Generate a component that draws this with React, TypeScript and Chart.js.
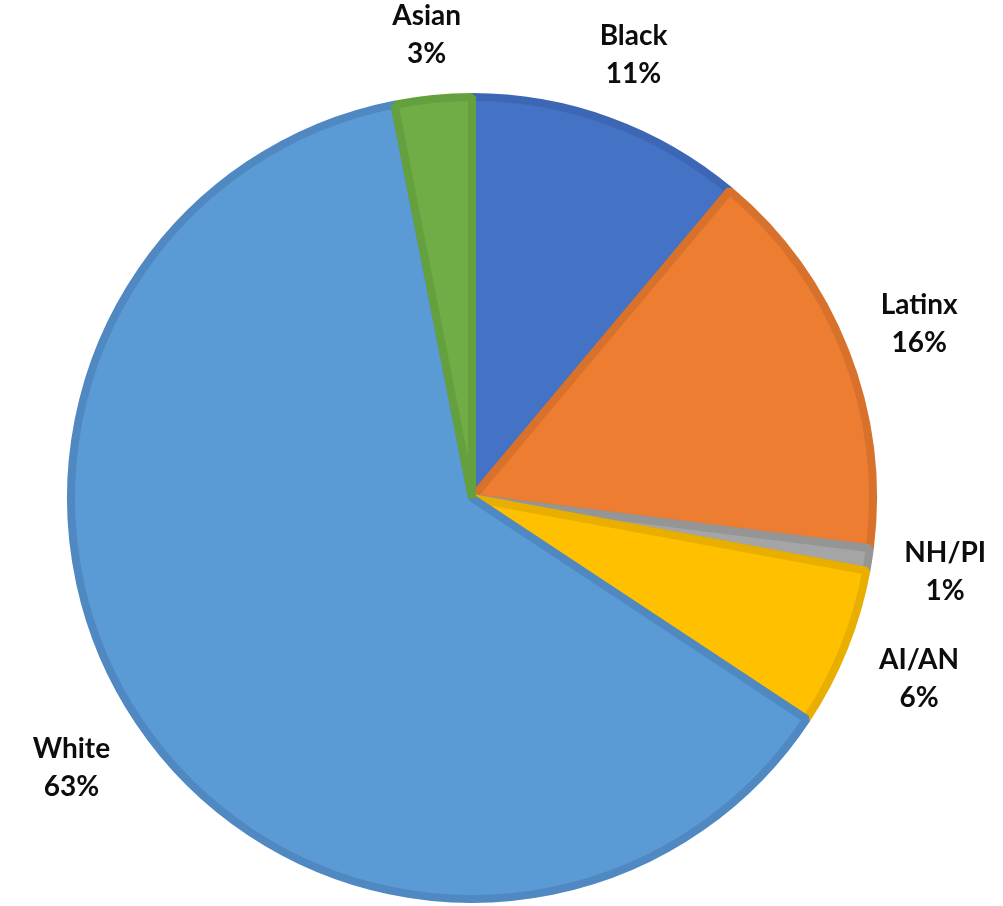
import React, { useEffect, useRef } from "react";
import { Chart, registerables } from "chart.js";

Chart.register(...registerables);

const categories = ["Black", "Latinx", "NH/PI", "AI/AN", "White", "Asian"];
const shares = [11.1, 15.9, 0.9, 6.4, 62.6, 3.1];
const fillColors = ["#4472C4", "#ED7D31", "#A5A5A5", "#FFC000", "#5B9BD5", "#70AD47"];
const edgeColors = ["#3D67B4", "#D8712C", "#959595", "#E8AE00", "#5089C2", "#64A03D"];

const FONT_SIZE = 28;
const LINE_GAP = 38;
const CAP = 20;

const outsideLabels = {
  id: "outsideLabels",
  afterDatasetsDraw(chart: any) {
    const ctx = chart.ctx;
    const meta = chart.getDatasetMeta(0);
    ctx.save();
    ctx.font = `bold ${FONT_SIZE}px Lato, "Open Sans", sans-serif`;
    ctx.fillStyle = "#0d0d0d";
    ctx.textAlign = "center";
    ctx.textBaseline = "alphabetic";
    meta.data.forEach((arc: any, i: number) => {
      const { x, y, startAngle, endAngle, outerRadius } = arc.getProps(
        ["x", "y", "startAngle", "endAngle", "outerRadius"],
        true
      );
      const lines = [categories[i], `${Math.round(shares[i])}%`];
      const w = Math.max(...lines.map((l) => ctx.measureText(l).width));
      const h = LINE_GAP + CAP;
      const a = (startAngle + endAngle) / 2;
      const ca = Math.cos(a);
      const sa = Math.sin(a);
      const extent = Math.abs(ca) * (w / 2) + Math.abs(sa) * (h / 2);
      const d = outerRadius + 4 + 29 + extent;
      const cx = x + ca * d;
      const cy = y + sa * d;
      const base1 = cy - h / 2 + CAP;
      ctx.fillText(lines[0], cx, base1);
      ctx.fillText(lines[1], cx, base1 + LINE_GAP);
    });
    ctx.restore();
  },
};

export default function App() {
  const canvasRef = useRef<HTMLCanvasElement | null>(null);

  useEffect(() => {
    if (!canvasRef.current) return;
    const chart = new Chart(canvasRef.current, {
      type: "pie",
      data: {
        labels: categories,
        datasets: [
          {
            data: shares,
            backgroundColor: fillColors,
            borderColor: edgeColors,
            borderWidth: 8,
            radius: 401,
            clip: false,
          } as any,
        ],
      },
      options: {
        animation: false,
        responsive: true,
        maintainAspectRatio: false,
        layout: { padding: { left: 0, right: 59, top: 90, bottom: 0 } },
        plugins: {
          legend: { display: false },
          tooltip: { enabled: false },
          title: { display: false },
        },
      },
      plugins: [outsideLabels],
    });
    return () => chart.destroy();
  }, []);

  return (
    <div
      style={{
        position: "absolute",
        left: 0,
        top: 0,
        width: 1003,
        height: 906,
        background: "#ffffff",
      }}
    >
      <canvas ref={canvasRef} />
    </div>
  );
}
